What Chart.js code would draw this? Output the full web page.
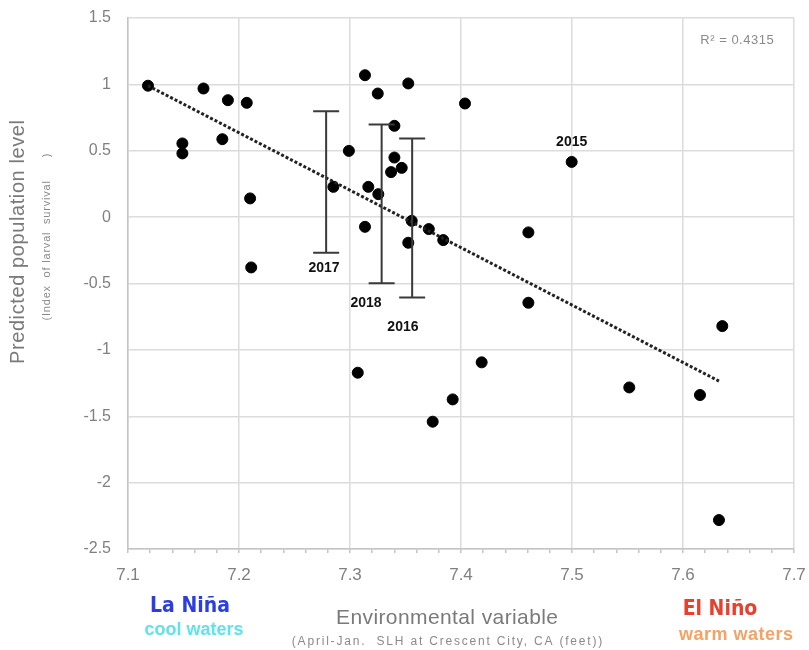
<!DOCTYPE html>
<html>
<head>
<meta charset="utf-8">
<script src="https://cdn.jsdelivr.net/npm/chart.js@4/dist/chart.umd.min.js"></script>
<style>
  body { margin: 0; background: #fff; }
  #wrap { width: 809px; height: 650px; }
</style>
</head>
<body>
<div id="wrap"><canvas id="c" width="809" height="650"></canvas></div>
<script>
// Survival index vs. sea level height (SLH)

// observed years (x = SLH in feet, y = predicted population level)
const slh = [7.118, 7.149, 7.149, 7.168, 7.190, 7.207, 7.185, 7.210, 7.211, 7.285,
             7.299, 7.3135, 7.3525, 7.325, 7.4036, 7.340, 7.340, 7.3466, 7.337, 7.3165,
             7.3255, 7.3556, 7.371, 7.384, 7.3135, 7.3525, 7.4607, 7.4607, 7.4186, 7.3925,
             7.3745, 7.5516, 7.6153, 7.6354, 7.6324, 7.4997, 7.307];
const level = [0.99, 0.555, 0.48, 0.969, 0.881, 0.861, 0.587, 0.141, -0.379, 0.228,
               0.499, 1.069, 1.007, 0.931, 0.856, 0.688, 0.449, 0.371, 0.339, 0.228,
               0.173, -0.028, -0.09, -0.173, -0.073, -0.193, -0.115, -0.645, -1.094, -1.373,
               -1.541, -1.283, -1.340, -0.821, -2.282, 0.416, -1.172];

// linear trend end points
const trendX = [7.118, 7.6324];
const trendY = [0.99, -1.235];

// forecast ranges
const errYears = ['2017', '2018', '2016'];
const errX = [7.2785, 7.3285, 7.356];
const errLow = [-0.269, -0.499, -0.605];
const errHigh = [0.798, 0.698, 0.592];

// year labels (anchor in data units)
const yearLabels = ['2017', '2018', '2016', '2015'];
const yearLabelX = [7.2766, 7.3144, 7.3477, 7.4997];
const yearLabelY = [-0.384, -0.648, -0.828, 0.567];

const xTicks = [7.1, 7.2, 7.3, 7.4, 7.5, 7.6, 7.7];
const yTicks = [1.5, 1, 0.5, 0, -0.5, -1, -1.5, -2, -2.5];
const r2Text = 'R\u00b2 = 0.4315';

const points = slh.map((x, i) => ({ x: x, y: level[i] }));
const trend = trendX.map((x, i) => ({ x: x, y: trendY[i] }));

const SANS = '"Liberation Sans", Arial, sans-serif';

function isMajor(v) {
    return Math.abs(v * 10 - Math.round(v * 10)) < 1e-6;
}

function spacedText(ctx, text, x, y, spacing) {
    ctx.letterSpacing = spacing + 'px';
    ctx.fillText(text, x + spacing / 2, y);
    ctx.letterSpacing = '0px';
}

const extras = {
    id: 'extras',
    afterDatasetsDraw(chart) {
        const ctx = chart.ctx;
        const xs = chart.scales.x, ys = chart.scales.y;
        ctx.save();
        // error bars
        ctx.strokeStyle = '#3a3a3a';
        ctx.lineWidth = 2;
        errX.forEach((x, i) => {
            const px = xs.getPixelForValue(x);
            const top = ys.getPixelForValue(errHigh[i]);
            const bot = ys.getPixelForValue(errLow[i]);
            ctx.beginPath();
            ctx.moveTo(px, top); ctx.lineTo(px, bot);
            ctx.moveTo(px - 13, top); ctx.lineTo(px + 13, top);
            ctx.moveTo(px - 13, bot); ctx.lineTo(px + 13, bot);
            ctx.stroke();
        });
        // year labels
        ctx.fillStyle = '#111';
        ctx.font = 'bold 14px ' + SANS;
        ctx.textAlign = 'center';
        ctx.textBaseline = 'middle';
        yearLabels.forEach((t, i) => {
            ctx.fillText(t, xs.getPixelForValue(yearLabelX[i]), ys.getPixelForValue(yearLabelY[i]));
        });
        ctx.restore();
    },
    afterDraw(chart) {
        const ctx = chart.ctx;
        ctx.save();
        ctx.textAlign = 'center';
        ctx.textBaseline = 'middle';

        // R squared
        ctx.fillStyle = '#8a8a8a';
        ctx.font = '13px ' + SANS;
        spacedText(ctx, r2Text, 737, 40, 0.5);

        // y axis title
        ctx.save();
        ctx.translate(18, 242);
        ctx.rotate(-Math.PI / 2);
        ctx.fillStyle = '#7a7a7a';
        ctx.font = '20px ' + SANS;
        spacedText(ctx, 'Predicted population level', 0, 0, 0.6);
        ctx.restore();
        ctx.save();
        ctx.translate(47, 237);
        ctx.rotate(-Math.PI / 2);
        ctx.fillStyle = '#8a8a8a';
        ctx.font = '11px ' + SANS;
        spacedText(ctx, '(Index  of larval  survival      )', 0, 0, 0.8);
        ctx.restore();

        // x axis title
        ctx.fillStyle = '#7a7a7a';
        ctx.font = '21px ' + SANS;
        spacedText(ctx, 'Environmental variable', 447, 618, 0.4);
        ctx.fillStyle = '#8a8a8a';
        ctx.font = '12px ' + SANS;
        spacedText(ctx, '(April-Jan.  SLH at Crescent City, CA (feet))', 447, 642, 1.8);

        // La Nina / El Nino
        ctx.font = 'bold 21px "Liberation Sans Narrow", "DejaVu Sans Condensed", sans-serif';
        ctx.fillStyle = '#2b3fe0';
        ctx.fillText('La Ni\u00f1a', 190, 607);
        ctx.fillStyle = '#e8402c';
        ctx.fillText('El Ni\u00f1o', 720, 610);
        ctx.font = 'bold 18px ' + SANS;
        ctx.fillStyle = '#5fe3ea';
        ctx.fillText('cool waters', 194, 630);
        ctx.fillStyle = '#f2a365';
        spacedText(ctx, 'warm waters', 736, 635, 0.5);
        ctx.restore();
    }
};

new Chart(document.getElementById('c'), {
    type: 'scatter',
    data: {
        datasets: [
            {
                data: trend,
                showLine: true,
                borderColor: '#222',
                borderWidth: 3,
                borderDash: [3, 2],
                pointRadius: 0,
                fill: false
            },
            {
                data: points,
                backgroundColor: '#000',
                borderColor: '#000',
                pointRadius: 5.5,
                pointHoverRadius: 5.5
            }
        ]
    },
    options: {
        responsive: false,
        animation: false,
        layout: { autoPadding: false, padding: { left: 0, top: 18, right: 15, bottom: 0 } },
        plugins: { legend: { display: false }, tooltip: { enabled: false } },
        scales: {
            x: {
                type: 'linear',
                min: 7.1,
                max: 7.7,
                afterFit: s => { s.height = 101; s.paddingLeft = 0; s.paddingRight = 0; },
                afterBuildTicks: s => {
                    const t = [];
                    for (let i = 0; i <= 30; i++) t.push({ value: +(7.1 + i * 0.02).toFixed(2) });
                    s.ticks = t;
                },
                ticks: {
                    autoSkip: false,
                    maxRotation: 0,
                    padding: 12,
                    color: '#808080',
                    font: { size: 17, family: SANS },
                    callback: v => isMajor(v) && xTicks.some(t => Math.abs(t - v) < 1e-6) ? v.toFixed(1) : ''
                },
                grid: {
                    color: c => (c.tick && isMajor(c.tick.value)) ? '#dcdcdc' : 'rgba(0,0,0,0)',
                    tickColor: '#c4c4c4',
                    tickLength: 4,
                    lineWidth: 1.5
                },
                border: { color: '#c4c4c4', width: 1.5 }
            },
            y: {
                min: -2.5,
                max: 1.5,
                afterFit: s => { s.width = 128; s.paddingTop = 0; s.paddingBottom = 0; },
                afterBuildTicks: s => { s.ticks = yTicks.map(v => ({ value: v })); },
                ticks: {
                    padding: 17,
                    color: '#808080',
                    font: { size: 16, family: SANS },
                    callback: v => String(v)
                },
                grid: { color: '#dcdcdc', drawTicks: false, lineWidth: 1.5 },
                border: { color: '#c4c4c4', width: 1.5 }
            }
        }
    },
    plugins: [extras]
});
</script>
</body>
</html>
